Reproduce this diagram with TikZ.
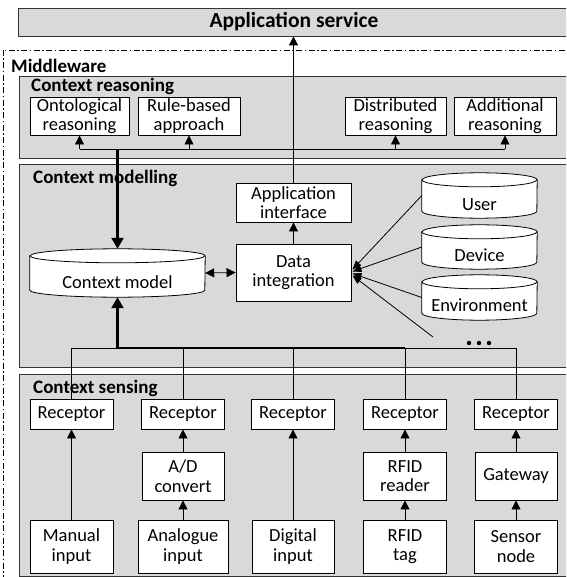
\documentclass[tikz,border=0pt]{standalone}
\usepackage{fontspec}
\setmainfont{Carlito}
\usetikzlibrary{arrows.meta,calc}
\definecolor{panelgray}{RGB}{217,217,217}
\newcommand\myboxfont{\fontsize{18.5}{19.5}\selectfont}
\newcommand\myheadfont{\fontsize{19}{21}\selectfont\bfseries}
\newcommand\mycyl[3]{%
  \draw[cylline] ($(#1.north west)+(0,-#3)$) -- ($(#1.south west)+(0,#3)$)
    arc[start angle=180,end angle=360,x radius=#2,y radius=#3]
    -- ($(#1.north east)+(0,-#3)$)
    arc[start angle=0,end angle=180,x radius=#2,y radius=#3] -- cycle;
  \draw[line width=0.8pt] ($(#1.north west)+(0,-#3)$)
    arc[start angle=180,end angle=360,x radius=#2,y radius=#3];
}
\begin{document}
\begin{tikzpicture}[x=1pt,y=1pt,
  panel/.style={draw=black!80,fill=panelgray,line width=0.8pt},
  mwline/.style={line width=0.7pt,dash pattern=on 6pt off 2.5pt on 1.5pt off 2.5pt},
  box/.style={draw=black,fill=white,line width=0.9pt,inner sep=0pt,align=center,font=\myboxfont},
  cylnode/.style={draw=none,inner sep=0pt},
  cylline/.style={draw=black,fill=white,line width=0.8pt},
  txt/.style={inner sep=0pt,font=\myboxfont,align=center},
  head/.style={inner sep=0pt,anchor=west,font=\myheadfont},
  conn/.style={line width=0.8pt},
  arr/.style={line width=0.8pt,-{Triangle[length=9pt,width=9pt]}},
  sarr/.style={line width=0.8pt,-{Triangle[length=9pt,width=7pt]}},
  darr/.style={line width=0.8pt,{Triangle[length=9pt,width=9pt]}-{Triangle[length=9pt,width=9pt]}},
  thick conn/.style={line width=2.2pt},
  thickarr/.style={line width=2.2pt,-{Triangle[length=11pt,width=12pt]}},
]
\useasboundingbox (0,0) rectangle (566,-577);
\clip (0,0) rectangle (566,-577);

% application service
\node[panel,inner sep=0pt,minimum width=552pt,minimum height=28pt,font=\fontsize{21.5}{23}\selectfont\bfseries] (app) at (294,-22) {Application service};

% middleware
\draw[mwline] (3,-50) rectangle (590,-600);
\node[head] (mw) at (11,-66) {Middleware};

% panels
\draw[panel] (19,-76) rectangle (590,-158);
\draw[panel] (19,-164) rectangle (590,-367);
\draw[panel] (19,-374) rectangle (590,-576);
\node[head] (crlab) at (31,-86) {Context reasoning};
\node[head] (cmlab) at (33,-178) {Context modelling};
\node[head] (cslab) at (33,-388) {Context sensing};

% reasoning boxes
\node[box,minimum width=99pt,minimum height=38pt] (onto) at (79.5,-116) {Ontological\\reasoning};
\node[box,minimum width=102pt,minimum height=38pt] (rule) at (189,-116) {Rule-based\\approach};
\node[box,minimum width=101pt,minimum height=38pt] (dist) at (395.5,-116) {Distributed\\reasoning};
\node[box,minimum width=102pt,minimum height=38pt] (addl) at (505,-116) {Additional\\reasoning};
\coordinate (rbus) at (0,-149);

% modelling
\node[box,minimum width=115pt,minimum height=39pt] (appif) at (293.5,-202.5) {Application\\interface};
\node[box,minimum width=115pt,minimum height=57pt] (data) at (293.5,-272.5) {Data\\integration};

\node[cylnode,minimum width=175pt,minimum height=48pt] (cmc) at (117.5,-273) {};
\mycyl{cmc}{87.5}{7}
\node[txt] (cmt) at (117.5,-282) {Context model};

\node[cylnode,minimum width=115pt,minimum height=45pt] (userc) at (479.5,-195.5) {};
\mycyl{userc}{57.5}{7}
\node[txt] (usert) at (479.5,-205) {User};
\node[cylnode,minimum width=115pt,minimum height=44pt] (devc) at (479.5,-247) {};
\mycyl{devc}{57.5}{7}
\node[txt] (devt) at (479.5,-255) {Device};
\node[cylnode,minimum width=115pt,minimum height=45pt] (envc) at (479.5,-297.5) {};
\mycyl{envc}{57.5}{7}
\node[txt] (envt) at (479.5,-305) {Environment};
\coordinate (more) at (433,-337);
\fill (469,-343) circle (2.2pt) (479,-343) circle (2.2pt) (489,-343) circle (2.2pt);

% sensing
\foreach \n/\x in {rec1/71.5,rec2/183,rec3/293,rec4/405,rec5/516}
  \node[box,minimum width=83pt,minimum height=30pt] (\n) at (\x,-414) {Receptor};
\node[box,minimum width=82pt,minimum height=48pt] (adc) at (183,-476) {A/D\\convert};
\node[box,minimum width=83pt,minimum height=48pt] (rfr) at (405,-476) {RFID\\reader};
\node[box,minimum width=82pt,minimum height=48pt] (gw) at (516,-476) {Gateway};
\node[box,minimum width=83pt,minimum height=53pt] (man) at (71.5,-546.5) {Manual\\input};
\node[box,minimum width=90pt,minimum height=53pt] (ana) at (183,-546.5) {Analogue\\input};
\node[box,minimum width=82pt,minimum height=53pt] (dig) at (293,-546.5) {Digital\\input};
\node[box,minimum width=83pt,minimum height=53pt] (tag) at (405,-546.5) {RFID\\tag};
\node[box,minimum width=83pt,minimum height=53pt] (sen) at (516,-546.5) {Sensor\\node};
\coordinate (sbus) at (0,-348);

% reasoning connectors
\draw[conn] (onto.south |- rbus) -- (addl.south |- rbus);
\foreach \n in {onto,rule,dist,addl}
  \draw[arr] (\n.south |- rbus) -- (\n.south);
\draw[thickarr] (cmc.north |- rbus) -- (cmc.north);

% modelling connectors
\draw[arr] (appif.north) -- (appif.north |- app.south);
\draw[arr] (data.north) -- (appif.south);
\draw[darr] (cmc.east) -- (data.west);
\draw[sarr] (userc.west) -- ($(data.east)+(1,3)$);
\draw[sarr] (devc.west) -- ($(data.east)+(1,1)$);
\draw[sarr] (envc.west) -- ($(data.east)+(1,-1)$);
\draw[sarr] (more) -- ($(data.east)+(1,-3)$);

% sensing connectors
\draw[conn] (rec1.north) -- (rec1.north |- sbus) -- (rec5.north |- sbus) -- (rec5.north);
\foreach \n in {rec2,rec3,rec4}
  \draw[conn] (\n.north) -- (\n.north |- sbus);
\draw[thick conn] (cmc.south |- sbus) -- (rec4.north |- sbus);
\draw[thickarr] (cmc.south |- sbus) -- (cmc.south);
\draw[arr] (man.north) -- (rec1.south);
\draw[arr] (ana.north) -- (adc.south);
\draw[arr] (adc.north) -- (rec2.south);
\draw[arr] (dig.north) -- (rec3.south);
\draw[arr] (tag.north) -- (rfr.south);
\draw[arr] (rfr.north) -- (rec4.south);
\draw[arr] (sen.north) -- (gw.south);
\draw[arr] (gw.north) -- (rec5.south);
\end{tikzpicture}
\end{document}
